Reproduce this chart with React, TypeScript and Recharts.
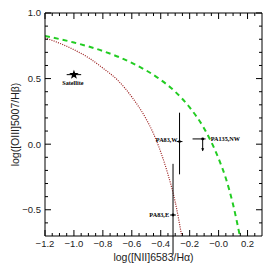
import React from 'react';
import { ComposedChart, Line, Scatter, ErrorBar, XAxis, YAxis } from 'recharts';

// demarcation curves
const kauffX = [-1.2, -1.1, -1.0, -0.9, -0.8, -0.7, -0.6, -0.5, -0.45, -0.4, -0.35, -0.3, -0.255];
const kauffY = [0.81, 0.77, 0.72, 0.66, 0.58, 0.49, 0.36, 0.19, 0.08, -0.06, -0.23, -0.44, -0.7];
const kewleyX = [-1.2, -1.0, -0.8, -0.6, -0.4, -0.3, -0.2, -0.1, 0.0, 0.05, 0.1, 0.147];
const kewleyY = [0.825, 0.775, 0.71, 0.62, 0.49, 0.4, 0.28, 0.12, -0.11, -0.26, -0.46, -0.7];

// measured points
const names = ['Satellite', 'PA83,W', 'PA135,NW', 'PA83,E'];
const pointX = [-1.0, -0.27, -0.11, -0.315];
const pointY = [0.53, 0.02, 0.04, -0.54];
const xErrLow = [0.05, 0.02, 0.07, 0.02];
const xErrHigh = [0.05, 0.02, 0.02, 0.02];
const yErrLow = [0, 0.25, 0.09, 0.3];
const yErrHigh = [0, 0.22, 0, 0.39];

// upper limit arrow heads
const limitX = [-0.11];
const limitY = [-0.05];

const xMajor = [-1.2, -1.0, -0.8, -0.6, -0.4, -0.2, 0, 0.2];
const xMinor = [-1.15, -1.1, -1.05, -0.95, -0.9, -0.85, -0.75, -0.7, -0.65, -0.55, -0.5, -0.45,
  -0.35, -0.3, -0.25, -0.15, -0.1, -0.05, 0.05, 0.1, 0.15, 0.25];
const yMajor = [-0.5, 0, 0.5, 1.0];
const yMinor = [-0.6, -0.4, -0.3, -0.2, -0.1, 0.1, 0.2, 0.3, 0.4, 0.6, 0.7, 0.8, 0.9];

const kauff = kauffX.map((x, i) => ({ x, y: kauffY[i] }));
const kewley = kewleyX.map((x, i) => ({ x, y: kewleyY[i] }));
const points = names.map((name, i) => ({
  name,
  x: pointX[i],
  y: pointY[i],
  xErr: [xErrLow[i], xErrHigh[i]],
  yErr: [yErrLow[i], yErrHigh[i]],
}));
const limits = limitX.map((x, i) => ({ x, y: limitY[i] }));

const xTicks = [...xMajor, ...xMinor].sort((a, b) => a - b);
const yTicks = [...yMajor, ...yMinor].sort((a, b) => a - b);
const isMajor = (list: number[], v: number) => list.some((m) => Math.abs(m - v) < 1e-9);

const sans = '"Liberation Sans", Arial, sans-serif';
const tickText = { fontFamily: sans, fontSize: 9.5, fill: '#222' };
const MAJOR = 6;
const MINOR = 3;

const labelPlacement: Record<string, { dx: number; dy: number; anchor: 'start' | 'middle' | 'end' }> = {
  Satellite: { dx: -1, dy: 10, anchor: 'middle' },
  'PA83,W': { dx: -2, dy: 0, anchor: 'end' },
  'PA135,NW': { dx: 8, dy: 2, anchor: 'start' },
  'PA83,E': { dx: -4, dy: 2, anchor: 'end' },
};

const starPath = (cx: number, cy: number, ro: number, ri: number) => {
  let d = '';
  for (let k = 0; k < 10; k++) {
    const r = k % 2 === 0 ? ro : ri;
    const a = -Math.PI / 2 + (k * Math.PI) / 5;
    d += (k === 0 ? 'M' : 'L') + (cx + r * Math.cos(a)).toFixed(2) + ',' + (cy + r * Math.sin(a)).toFixed(2);
  }
  return d + 'Z';
};

const PointShape = (props: any) => {
  const { cx, cy, payload } = props;
  const p = labelPlacement[payload.name];
  return (
    <g>
      {payload.name === 'Satellite' ? (
        <path d={starPath(cx, cy, 5, 2)} fill="#000" />
      ) : (
        <circle cx={cx} cy={cy} r={1.4} fill="#000" />
      )}
      <text
        x={cx + p.dx}
        y={cy + p.dy}
        textAnchor={p.anchor}
        fontFamily='"Liberation Serif", "Times New Roman", serif'
        fontWeight={700}
        fontSize={6.2}
        fill="#000"
      >
        {payload.name}
      </text>
    </g>
  );
};

const ArrowShape = (props: any) => {
  const { cx, cy } = props;
  return <path d={`M${cx - 1.5},${cy - 2.5}L${cx + 1.5},${cy - 2.5}L${cx},${cy + 0.5}Z`} fill="#000" />;
};

const NoShape = () => <g />;

const fmtX = (v: number) => (Math.abs(v) < 1e-9 ? '\u22120.0' : v < 0 ? '\u2212' + Math.abs(v).toFixed(1) : v.toFixed(1));
const fmtY = (v: number) => (v < -1e-9 ? '\u2212' + Math.abs(v).toFixed(1) : Math.abs(v).toFixed(1));

// inward ticks, IDL style
const BottomTick = ({ x, y, payload }: any) => {
  const major = isMajor(xMajor, payload.value);
  return (
    <g>
      <line x1={x} x2={x} y1={y} y2={y - (major ? MAJOR : MINOR)} stroke="#000" />
      {major && (
        <text x={x} y={y + 4} dy="0.71em" textAnchor="middle" style={tickText}>
          {fmtX(payload.value)}
        </text>
      )}
    </g>
  );
};
const TopTick = ({ x, y, payload }: any) => {
  const len = isMajor(xMajor, payload.value) ? MAJOR : MINOR;
  return <line x1={x} x2={x} y1={y} y2={y + len} stroke="#000" />;
};
const LeftTick = ({ x, y, payload }: any) => {
  const major = isMajor(yMajor, payload.value);
  return (
    <g>
      <line x1={x} x2={x + (major ? MAJOR : MINOR)} y1={y} y2={y} stroke="#000" />
      {major && (
        <text x={x - 4} y={y} dy="0.35em" textAnchor="end" style={tickText}>
          {fmtY(payload.value)}
        </text>
      )}
    </g>
  );
};
const RightTick = ({ x, y, payload }: any) => {
  const len = isMajor(yMajor, payload.value) ? MAJOR : MINOR;
  return <line x1={x} x2={x - len} y1={y} y2={y} stroke="#000" />;
};

const App = () => {
  return (
    <ComposedChart width={266} height={263} margin={{ top: 4, right: 11, left: 0, bottom: 0 }}>
      <XAxis
        xAxisId="b"
        dataKey="x"
        type="number"
        domain={[-1.2, 0.3]}
        allowDataOverflow
        ticks={xTicks}
        interval={0}
        tickSize={0}
        tickMargin={0}
        tickLine={false}
        tick={<BottomTick />}
        height={35}
        stroke="#000"
        label={{ value: 'log([NII]6583/H\u03b1)', position: 'insideBottom', offset: 10, style: { fontFamily: sans, fontSize: 10.5, fill: '#222' } }}
      />
      <XAxis xAxisId="t" dataKey="x" orientation="top" type="number" domain={[-1.2, 0.3]} allowDataOverflow
        ticks={xTicks} interval={0} tickSize={0} tickMargin={0} tickLine={false} tick={<TopTick />}
        height={1} stroke="#000" />
      <YAxis
        yAxisId="l"
        dataKey="y"
        type="number"
        domain={[-0.7, 1.0]}
        allowDataOverflow
        ticks={yTicks}
        interval={0}
        tickSize={0}
        tickMargin={0}
        tickLine={false}
        tick={<LeftTick />}
        width={37}
        stroke="#000"
        label={{ value: 'log([OIII]5007/H\u03b2)', angle: -90, position: 'insideLeft', offset: 7, style: { textAnchor: 'middle', fontFamily: sans, fontSize: 10.5, fill: '#222' } }}
      />
      <YAxis yAxisId="r" dataKey="y" orientation="right" type="number" domain={[-0.7, 1.0]} allowDataOverflow
        ticks={yTicks} interval={0} tickSize={0} tickMargin={0} tickLine={false} tick={<RightTick />}
        width={1} stroke="#000" />

      <Scatter xAxisId="t" yAxisId="r" data={points} dataKey="y" shape={NoShape} isAnimationActive={false} />

      <Line xAxisId="b" yAxisId="l" data={kewley} dataKey="y" type="monotone" stroke="#22cc22" strokeWidth={2}
        strokeDasharray="5 4" dot={false} isAnimationActive={false} />
      <Line xAxisId="b" yAxisId="l" data={kauff} dataKey="y" type="monotone" stroke="#9b1c1c" strokeWidth={1.2}
        strokeDasharray="1 1.3" dot={false} isAnimationActive={false} />
      <Scatter xAxisId="b" yAxisId="l" data={points} dataKey="y" shape={PointShape} isAnimationActive={false}>
        <ErrorBar dataKey="xErr" direction="x" width={0} stroke="#000" strokeWidth={1} />
        <ErrorBar dataKey="yErr" direction="y" width={0} stroke="#000" strokeWidth={1} />
      </Scatter>
      <Scatter xAxisId="b" yAxisId="l" data={limits} dataKey="y" shape={ArrowShape} isAnimationActive={false} />
    </ComposedChart>
  );
};

export default App;
